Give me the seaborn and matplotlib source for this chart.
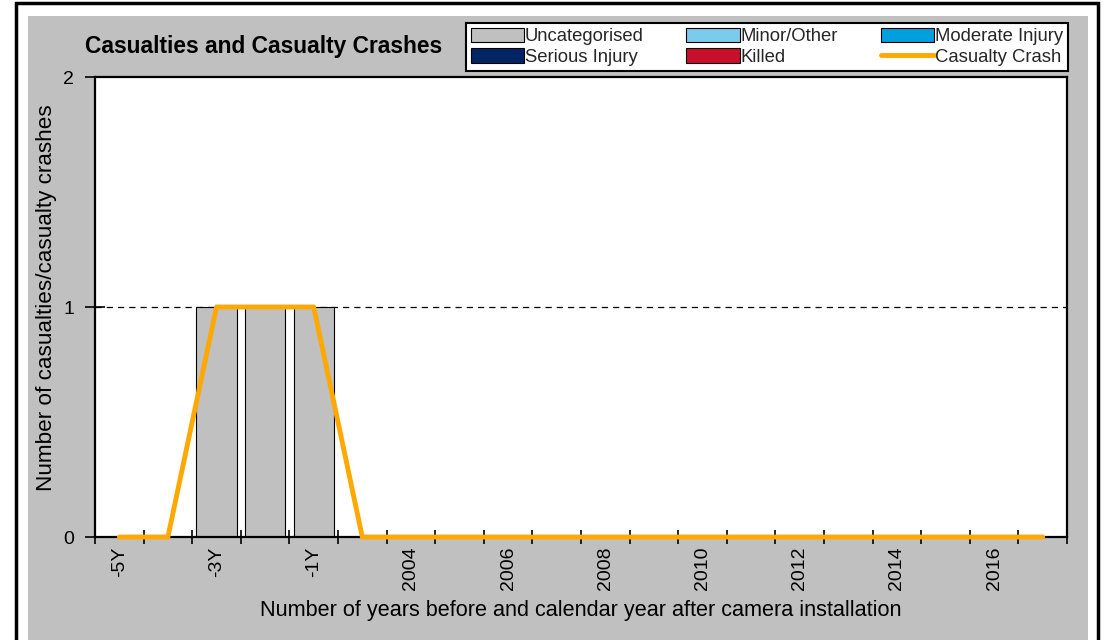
import matplotlib
matplotlib.use("Agg")
import matplotlib.pyplot as plt
import numpy as np
import pandas as pd
import seaborn as sns
from matplotlib.lines import Line2D
from matplotlib.patches import Patch, Rectangle

# Data
periods = ["-5Y", "-4Y", "-3Y", "-2Y", "-1Y"] + [str(y) for y in range(2003, 2018)]
uncategorised = [0, 0, 1, 1, 1] + [0] * 15
minor_other = [0] * 20
moderate_injury = [0] * 20
serious_injury = [0] * 20
killed = [0] * 20
casualty_crash = [0, 0, 1, 1, 1] + [0] * 15

series_names = ["Uncategorised", "Minor/Other", "Moderate Injury", "Serious Injury", "Killed"]
series_colors = ["#C0C0C0", "#7ACBEC", "#009FDD", "#002464", "#C8102E"]
crash_color = "#FFA800"

df = pd.DataFrame({
    "period": periods,
    "Uncategorised": uncategorised,
    "Minor/Other": minor_other,
    "Moderate Injury": moderate_injury,
    "Serious Injury": serious_injury,
    "Killed": killed,
    "crash": casualty_crash,
})

sns.set_theme(style="white")
plt.rcParams["font.family"] = ["Liberation Sans", "DejaVu Sans"]

fig = plt.figure(figsize=(11.04, 6.4), dpi=100)
fig.patch.set_facecolor("white")
W, H = 1104, 640
# grey chart area and outer black frame
fig.patches.append(Rectangle((28 / W, 0), (1088 - 28) / W, (640 - 16) / H,
                             transform=fig.transFigure, facecolor="#C0C0C0",
                             edgecolor="none", zorder=-3))
fig.patches.append(Rectangle((16 / W, -0.05), (1098 - 16) / W, 1.05 - 3 / H,
                             transform=fig.transFigure, facecolor="none",
                             edgecolor="black", linewidth=2.5, zorder=-2))

ax = fig.add_axes([95 / W, (640 - 537) / H, (1067 - 95) / W, (537 - 77) / H])
ax.set_zorder(1)
ax.set_facecolor("white")

# stacked bars
x = np.arange(len(periods))
sns.barplot(data=df, x="period", y="Uncategorised", color=series_colors[0],
            width=0.83, edgecolor="black", linewidth=0.8, saturation=1, ax=ax, zorder=2)
bottom = np.array(uncategorised, dtype=float)
for name, col in zip(series_names[1:], series_colors[1:]):
    vals = df[name].to_numpy(dtype=float)
    ax.bar(x, vals, bottom=bottom, width=0.83, color=col, linewidth=0, zorder=2)
    bottom = bottom + vals

sns.lineplot(x=x, y=df["crash"], color=crash_color, linewidth=3.5, ax=ax,
             zorder=4, clip_on=False)

ax.axhline(1, color="black", linestyle=(0, (5, 4)), linewidth=0.9, zorder=1)

ax.set_xlim(-0.5, len(periods) - 0.5)
ax.set_ylim(0, 2)
ax.set_yticks([0, 1, 2])
ax.set_yticklabels(["0", "1", "2"], fontsize=14)
ax.set_xticks(x[::2])
ax.set_xticklabels(periods[::2], rotation=90, fontsize=14)
ax.set_xticks(np.arange(-0.5, len(periods), 1), minor=True)
ax.tick_params(axis="x", which="both", bottom=True)
ax.tick_params(axis="y", which="both", left=True)
ax.tick_params(axis="x", which="major", length=0, pad=7)
ax.tick_params(axis="x", which="minor", direction="inout", length=10, width=1.2, color="black")
ax.tick_params(axis="y", which="major", direction="inout", length=14, width=1.2,
               color="black", pad=8)
ax.tick_params(axis="both", colors="black", labelcolor="black")
for s in ax.spines.values():
    s.set_color("black")
    s.set_linewidth(1.6)

ax.set_xlabel("Number of years before and calendar year after camera installation",
              fontsize=15.6, color="black")
ax.xaxis.set_label_coords(0.5, -0.137)
ax.set_ylabel("Number of casualties/casualty crashes", fontsize=16.2, color="black")
ax.yaxis.set_label_coords(-0.039, 0.52)

fig.text(85 / W, 1 - 47 / H, "Casualties and Casualty Crashes", fontsize=16.4,
         fontweight="bold", ha="left", va="center", color="black")

# legend: row-wise order in 3 columns
handles = {name: Patch(facecolor=col, edgecolor="black", linewidth=0.8)
           for name, col in zip(series_names, series_colors)}
handles["Casualty Crash"] = Line2D([], [], color=crash_color, linewidth=3.5)
order = ["Uncategorised", "Serious Injury", "Minor/Other", "Killed",
         "Moderate Injury", "Casualty Crash"]
leg = fig.legend([handles[k] for k in order], order, ncol=3, loc="upper right",
                 bbox_to_anchor=(1068 / W, 1 - 23 / H), fontsize=13.3,
                 frameon=True, fancybox=False, framealpha=1, edgecolor="black",
                 handlelength=2.9, handleheight=0.85, handletextpad=0.05,
                 columnspacing=2.3, labelspacing=0.15, borderpad=0.25,
                 borderaxespad=0)
leg.get_frame().set_linewidth(1.5)

fig.savefig("out.png", dpi=100)
